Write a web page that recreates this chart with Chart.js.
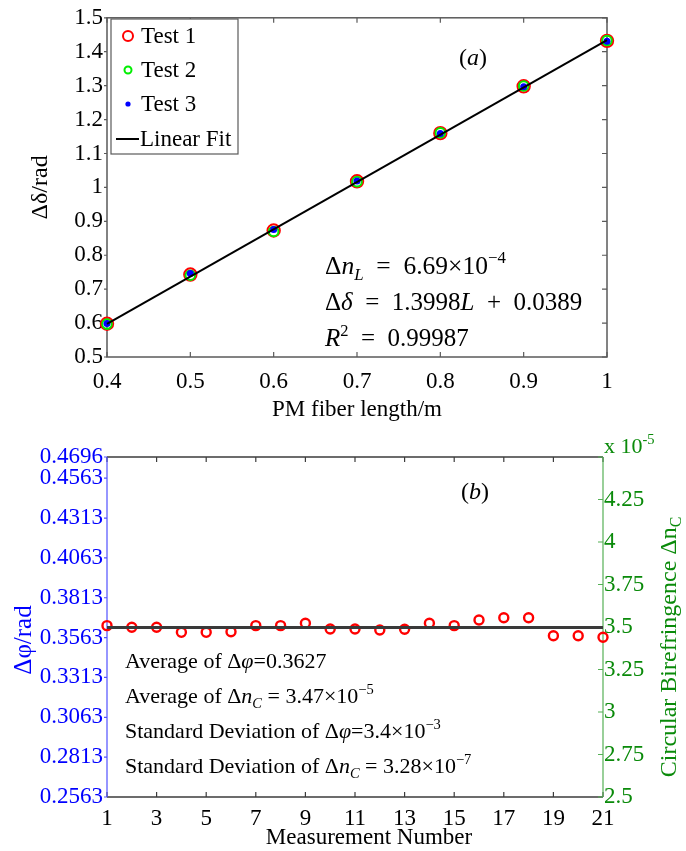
<!DOCTYPE html>
<html>
<head>
<meta charset="utf-8">
<script src="https://cdn.jsdelivr.net/npm/chart.js@4.4.0/dist/chart.umd.min.js"></script>
<style>
  html, body { margin: 0; padding: 0; background: #fff; }
  #wrap { position: relative; width: 686px; height: 851px; }
  #chartA { position: absolute; left: 0; top: 0; }
  #chartB { position: absolute; left: 0; top: 430px; }
</style>
</head>
<body>
<div id="wrap">
  <canvas id="chartA" width="686" height="430"></canvas>
  <canvas id="chartB" width="686" height="421"></canvas>
</div>
<script>
// ---- (a) retardance vs PM fiber length ----
const fiberLength = [0.4, 0.5, 0.6, 0.7, 0.8, 0.9, 1.0];
const test1 = [0.598, 0.743, 0.873, 1.018, 1.160, 1.298, 1.432];
const test2 = [0.597, 0.741, 0.870, 1.017, 1.161, 1.299, 1.433];
const test3 = [0.599, 0.746, 0.876, 1.019, 1.159, 1.297, 1.431];
const fitLength = [0.4, 1.0];
const fitValue = [0.598, 1.434];

// ---- (b) repeated measurement ----
const measurementNo = [1, 2, 3, 4, 5, 6, 7, 8, 9, 10, 11, 12, 13, 14, 15, 16, 17, 18, 19, 20, 21];
const deltaPhi = [0.3638, 0.3628, 0.3628, 0.3596, 0.3596, 0.3600, 0.3638, 0.3638, 0.3653, 0.3617, 0.3617,
                  0.3611, 0.3615, 0.3653, 0.3638, 0.3673, 0.3688, 0.3688, 0.3575, 0.3575, 0.3565];
const averageX = [1, 21];
const averagePhi = [0.3627, 0.3627];
const phiTicks = [0.2563, 0.2813, 0.3063, 0.3313, 0.3563, 0.3813, 0.4063, 0.4313, 0.4563, 0.4696];
const birefMin = 2.5, birefMax = 4.5, birefStep = 0.25;

const FONT = '"Liberation Serif", "Times New Roman", serif';
const BLUE = '#0000ff';
const GREEN = '#0a8a0a';
const SP = '\u2002'; // wider gap around = and +, like the tex output

function toPoints(xs, ys) {
    return xs.map((x, i) => ({ x: x, y: ys[i] }));
}

// draw a run of text pieces: '' plain, 'i' italic, '_' subscript, '^' superscript
function drawRich(ctx, parts, x, y, size, color, measureOnly) {
    ctx.fillStyle = color;
    ctx.textBaseline = 'alphabetic';
    ctx.textAlign = 'left';
    const x0 = x;
    for (const [txt, st] of parts) {
        const small = st.includes('_') || st.includes('^');
        const fs = small ? size * 0.66 : size;
        const dy = st.includes('_') ? size * 0.22 : (st.includes('^') ? -size * 0.42 : 0);
        ctx.font = (st.includes('i') ? 'italic ' : '') + fs + 'px ' + FONT;
        if (!measureOnly) ctx.fillText(txt, x, y + dy);
        x += ctx.measureText(txt).width;
    }
    return x - x0;
}

// little tick marks along a chart edge
function edgeTicks(ctx, scale, area, edge, len, values) {
    const vals = values || scale.ticks.map(t => t.value);
    ctx.beginPath();
    vals.forEach(v => {
        const p = scale.getPixelForValue(v);
        if (edge === 'bottom') { ctx.moveTo(p, area.bottom); ctx.lineTo(p, area.bottom - len); }
        if (edge === 'top') { ctx.moveTo(p, area.top); ctx.lineTo(p, area.top + len); }
        if (edge === 'left') { ctx.moveTo(area.left, p); ctx.lineTo(area.left + len, p); }
        if (edge === 'right') { ctx.moveTo(area.right, p); ctx.lineTo(area.right - len, p); }
    });
    ctx.stroke();
}

const frameA = {
    id: 'frameA',
    beforeDatasetsDraw(chart) {
        const { ctx, chartArea: a, scales: { x, y } } = chart;
        ctx.save();
        ctx.strokeStyle = '#5a5a5a';
        ctx.lineWidth = 1.5;
        ctx.strokeRect(a.left, a.top, a.right - a.left, a.bottom - a.top);
        ctx.lineWidth = 1.2;
        edgeTicks(ctx, x, a, 'bottom', 5);
        edgeTicks(ctx, x, a, 'top', 5);
        edgeTicks(ctx, y, a, 'left', -3);
        edgeTicks(ctx, y, a, 'right', 5);
        ctx.restore();
    },
    afterDraw(chart) {
        const { ctx } = chart;
        ctx.save();
        // legend box
        ctx.fillStyle = '#fff';
        ctx.fillRect(111, 19, 127, 135);
        ctx.strokeStyle = '#5a5a5a';
        ctx.lineWidth = 1.2;
        ctx.strokeRect(111, 19, 127, 135);
        ctx.lineWidth = 2;
        ctx.strokeStyle = '#ff0000';
        ctx.beginPath(); ctx.arc(128, 36, 5, 0, Math.PI * 2); ctx.stroke();
        ctx.strokeStyle = '#00ee00';
        ctx.beginPath(); ctx.arc(128, 70, 3.5, 0, Math.PI * 2); ctx.stroke();
        ctx.fillStyle = '#0000ff';
        ctx.beginPath(); ctx.arc(128, 104, 2.6, 0, Math.PI * 2); ctx.fill();
        ctx.strokeStyle = '#000';
        ctx.beginPath(); ctx.moveTo(116, 139); ctx.lineTo(139, 139); ctx.stroke();
        ctx.fillStyle = '#000';
        ctx.font = '23px ' + FONT;
        ctx.textBaseline = 'middle';
        ctx.fillText('Test 1', 141, 37);
        ctx.fillText('Test 2', 141, 71);
        ctx.fillText('Test 3', 141, 105);
        ctx.fillText('Linear Fit', 140, 140);

        // panel tag
        const tag = [['(', ''], ['a', 'i'], [')', '']];
        const tw = drawRich(ctx, tag, 0, 0, 24, '#000', true);
        drawRich(ctx, tag, 473 - tw / 2, 65, 24, '#000');

        // fit results
        drawRich(ctx, [['Δ', ''], ['n', 'i'], ['L', 'i_'], [SP + '=' + SP + '6.69×10', ''], ['−4', '^']], 325, 274, 25.5, '#000');
        drawRich(ctx, [['Δ', ''], ['δ', 'i'], [SP + '=' + SP + '1.3998', ''], ['L', 'i'], [SP + '+' + SP + '0.0389', '']], 325, 310, 25, '#000');
        drawRich(ctx, [['R', 'i'], ['2', '^'], [SP + '=' + SP + '0.99987', '']], 325, 346, 25, '#000');
        ctx.restore();
    }
};

const frameB = {
    id: 'frameB',
    beforeDatasetsDraw(chart) {
        const { ctx, chartArea: a, scales: { x, y, y2 } } = chart;
        ctx.save();
        ctx.lineWidth = 1.5;
        ctx.strokeStyle = '#3c3c3c';
        ctx.beginPath();
        ctx.moveTo(a.left, a.top); ctx.lineTo(a.right, a.top);
        ctx.moveTo(a.left, a.bottom); ctx.lineTo(a.right, a.bottom);
        ctx.stroke();
        ctx.lineWidth = 1.2;
        edgeTicks(ctx, x, a, 'bottom', 5);
        edgeTicks(ctx, x, a, 'top', 5);
        ctx.strokeStyle = '#5050ff';
        ctx.beginPath(); ctx.moveTo(a.left, a.top); ctx.lineTo(a.left, a.bottom); ctx.stroke();
        edgeTicks(ctx, y, a, 'left', -3, phiTicks);
        ctx.strokeStyle = '#55b055';
        ctx.beginPath(); ctx.moveTo(a.right, a.top); ctx.lineTo(a.right, a.bottom); ctx.stroke();
        edgeTicks(ctx, y2, a, 'right', 5);
        ctx.restore();
    },
    afterDraw(chart) {
        const { ctx } = chart;
        ctx.save();
        const tag = [['(', ''], ['b', 'i'], [')', '']];
        const tw = drawRich(ctx, tag, 0, 0, 24, '#000', true);
        drawRich(ctx, tag, 475 - tw / 2, 69, 24, '#000');

        drawRich(ctx, [['Average of Δ', ''], ['φ', 'i'], ['=0.3627', '']], 125, 238, 22, '#000');
        drawRich(ctx, [['Average of Δ', ''], ['n', 'i'], ['C', 'i_'], [' = 3.47×10', ''], ['−5', '^']], 125, 273, 22, '#000');
        drawRich(ctx, [['Standard Deviation of Δ', ''], ['φ', 'i'], ['=3.4×10', ''], ['−3', '^']], 125, 308, 22, '#000');
        drawRich(ctx, [['Standard Deviation of Δ', ''], ['n', 'i'], ['C', 'i_'], [' = 3.28×10', ''], ['−7', '^']], 125, 343, 22, '#000');

        // x axis title, sits a little right of centre in the original
        ctx.font = '23px ' + FONT;
        ctx.fillStyle = '#000';
        ctx.textAlign = 'center';
        ctx.textBaseline = 'middle';
        ctx.fillText('Measurement Number', 369, 408);

        // exponent of the right axis
        drawRich(ctx, [['x 10', ''], ['-5', '^']], 604, 23, 22, GREEN);

        // left axis title
        ctx.save();
        ctx.translate(31, 210);
        ctx.rotate(-Math.PI / 2);
        const lt = [['Δφ/rad', '']];
        const lw = drawRich(ctx, lt, 0, 0, 25, BLUE, true);
        drawRich(ctx, lt, -lw / 2, 0, 25, BLUE);
        ctx.restore();

        // right axis title
        ctx.save();
        ctx.translate(676, 217);
        ctx.rotate(-Math.PI / 2);
        const rt = [['Circular Birefringence Δn', ''], ['C', '_']];
        const rw = drawRich(ctx, rt, 0, 0, 24, GREEN, true);
        drawRich(ctx, rt, -rw / 2, 0, 24, GREEN);
        ctx.restore();
        ctx.restore();
    }
};

Chart.defaults.font.family = FONT;
Chart.defaults.color = '#000';

new Chart(document.getElementById('chartA'), {
    type: 'scatter',
    data: {
        datasets: [
            { label: 'Linear Fit', data: toPoints(fitLength, fitValue), showLine: true, borderColor: '#000',
              borderWidth: 2, pointRadius: 0, order: 0, clip: false },
            { label: 'Test 3', data: toPoints(fiberLength, test3), pointRadius: 3.5, pointBackgroundColor: '#0000ff',
              pointBorderWidth: 0, order: 1, clip: false },
            { label: 'Test 2', data: toPoints(fiberLength, test2), pointRadius: 4.8, pointBorderColor: '#00ee00',
              pointBackgroundColor: 'rgba(0,0,0,0)', pointBorderWidth: 2, order: 2, clip: false },
            { label: 'Test 1', data: toPoints(fiberLength, test1), pointRadius: 6.2, pointBorderColor: '#ff0000',
              pointBackgroundColor: 'rgba(0,0,0,0)', pointBorderWidth: 2, order: 3, clip: false },
        ],
    },
    options: {
        responsive: false,
        animation: false,
        layout: { padding: { top: 16, right: 79, left: 0, bottom: 0 } },
        plugins: { legend: { display: false }, tooltip: { enabled: false } },
        scales: {
            x: {
                type: 'linear', min: 0.4, max: 1.0,
                ticks: { stepSize: 0.1, padding: 11, maxRotation: 0, font: { size: 23 },
                         callback: v => String(+v.toFixed(1)) },
                grid: { display: false, drawTicks: false }, border: { display: false },
                title: { display: true, text: 'PM fiber length/m', font: { size: 23 }, padding: { top: 0, bottom: 6 } },
                afterFit: s => { s.height = 73; },
            },
            y: {
                type: 'linear', min: 0.5, max: 1.5,
                ticks: { stepSize: 0.1, padding: 4, font: { size: 23 },
                         callback: v => String(+v.toFixed(1)) },
                grid: { display: false, drawTicks: false }, border: { display: false },
                title: { display: true, text: 'Δδ/rad', font: { size: 24 }, padding: { top: 26, bottom: 0 } },
                afterFit: s => { s.width = 107; },
            },
        },
    },
    plugins: [frameA],
});

new Chart(document.getElementById('chartB'), {
    type: 'scatter',
    data: {
        datasets: [
            { label: 'Average', data: toPoints(averageX, averagePhi), showLine: true, borderColor: '#3a3a3a',
              borderWidth: 3, pointRadius: 0, order: 0, clip: false },
            { label: 'Δφ', data: toPoints(measurementNo, deltaPhi), pointRadius: 4.5, pointBorderColor: '#ff0000',
              pointBackgroundColor: 'rgba(0,0,0,0)', pointBorderWidth: 2.4, order: 1, clip: false },
        ],
    },
    options: {
        responsive: false,
        animation: false,
        layout: { padding: { top: 27, right: 0, left: 0, bottom: 0 } },
        plugins: { legend: { display: false }, tooltip: { enabled: false } },
        scales: {
            x: {
                type: 'linear', min: 1, max: 21,
                ticks: { stepSize: 2, padding: 8, maxRotation: 0, font: { size: 23 } },
                grid: { display: false, drawTicks: false }, border: { display: false },
                afterFit: s => { s.height = 54; },
            },
            y: {
                type: 'linear', position: 'left', min: phiTicks[0], max: phiTicks[phiTicks.length - 1],
                afterBuildTicks: s => { s.ticks = phiTicks.map(v => ({ value: v })); },
                ticks: { autoSkip: false, padding: 4, color: BLUE, font: { size: 23 },
                         callback: v => v.toFixed(4) },
                grid: { display: false, drawTicks: false }, border: { display: false },
                afterFit: s => { s.width = 107; },
            },
            y2: {
                type: 'linear', position: 'right', min: birefMin, max: birefMax,
                ticks: { stepSize: birefStep, padding: 1, color: GREEN, font: { size: 23 },
                         callback: v => (v >= birefMax ? '' : String(+v.toFixed(2))) },
                grid: { display: false, drawTicks: false }, border: { display: false },
                afterFit: s => { s.width = 83; },
            },
        },
    },
    plugins: [frameB],
});
</script>
</body>
</html>
